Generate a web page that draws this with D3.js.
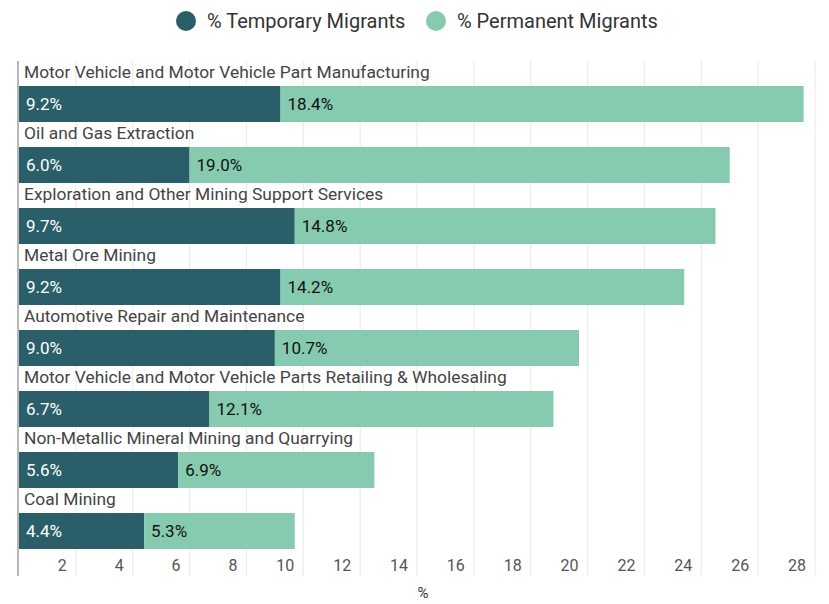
<!DOCTYPE html>
<html>
<head>
<meta charset="utf-8">
<script src="https://cdn.jsdelivr.net/npm/d3@7"></script>
<style>
  body { margin: 0; background: #fff; font-family: Roboto, "Noto Sans", sans-serif; }
  svg text { font-family: Roboto, "Noto Sans", sans-serif; }
</style>
</head>
<body>
<div id="chart"></div>
<script>
// Chart data
const categories = [
    "Motor Vehicle and Motor Vehicle Part Manufacturing",
    "Oil and Gas Extraction",
    "Exploration and Other Mining Support Services",
    "Metal Ore Mining",
    "Automotive Repair and Maintenance",
    "Motor Vehicle and Motor Vehicle Parts Retailing & Wholesaling",
    "Non-Metallic Mineral Mining and Quarrying",
    "Coal Mining"
];
const temporary = [9.2, 6.0, 9.7, 9.2, 9.0, 6.7, 5.6, 4.4];
const permanent = [18.4, 19.0, 14.8, 14.2, 10.7, 12.1, 6.9, 5.3];
const seriesNames = ["% Temporary Migrants", "% Permanent Migrants"];
const xTicks = [2, 4, 6, 8, 10, 12, 14, 16, 18, 20, 22, 24, 26, 28];

const width = 829, height = 604;
const colors = ["#2a5f69", "#86cbb0"];

const svg = d3.select("#chart")
    .append("svg")
    .attr("width", width)
    .attr("height", height);

// Scales
const x = d3.scaleLinear().domain([0, 28]).range([19, 815]);
const y = d3.scaleBand().domain(categories).range([64, 552]).paddingInner(0);

const plotTop = 61, plotBottom = 576;

// Gridlines
svg.append("g")
    .selectAll("line")
    .data(xTicks)
    .enter()
    .append("line")
    .attr("x1", d => x(d))
    .attr("x2", d => x(d))
    .attr("y1", plotTop)
    .attr("y2", plotBottom)
    .attr("stroke", "#ececec")
    .attr("stroke-width", 1.2);

// Tick labels (right aligned to the left of the gridline)
svg.append("g")
    .selectAll("text")
    .data(xTicks)
    .enter()
    .append("text")
    .attr("x", d => x(d) - 9)
    .attr("y", 571)
    .attr("text-anchor", "end")
    .attr("font-size", 16)
    .attr("fill", "#555")
    .text(d => d);

// Left axis line
svg.append("line")
    .attr("x1", 18).attr("x2", 18)
    .attr("y1", plotTop).attr("y2", plotBottom)
    .attr("stroke", "#888")
    .attr("stroke-width", 1.2);

// Rows
const rows = svg.append("g")
    .selectAll("g")
    .data(categories.map((c, i) => ({ name: c, t: temporary[i], p: permanent[i] })))
    .enter()
    .append("g")
    .attr("transform", d => "translate(0," + y(d.name) + ")");

rows.append("text")
    .attr("x", 24)
    .attr("y", 13.6)
    .attr("font-size", 17.4)
    .attr("fill", "#444")
    .text(d => d.name);

rows.append("rect")
    .attr("x", x(0))
    .attr("y", 22)
    .attr("width", d => x(d.t) - x(0))
    .attr("height", 36)
    .attr("fill", colors[0]);

rows.append("rect")
    .attr("x", d => x(d.t))
    .attr("y", 22)
    .attr("width", d => x(d.t + d.p) - x(d.t))
    .attr("height", 36)
    .attr("fill", colors[1]);

rows.append("text")
    .attr("x", x(0) + 7)
    .attr("y", 40)
    .attr("dy", "0.35em")
    .attr("font-size", 17)
    .attr("fill", "#fff")
    .text(d => d.t.toFixed(1) + "%");

rows.append("text")
    .attr("x", d => x(d.t) + 7)
    .attr("y", 40)
    .attr("dy", "0.35em")
    .attr("font-size", 17)
    .attr("fill", "#111")
    .text(d => d.p.toFixed(1) + "%");

// Axis title
svg.append("text")
    .attr("x", 423)
    .attr("y", 598)
    .attr("text-anchor", "middle")
    .attr("font-size", 15)
    .attr("fill", "#333")
    .text("%");

// Legend
const legendX = [186, 436];
const legend = svg.append("g")
    .selectAll("g")
    .data(seriesNames)
    .enter()
    .append("g")
    .attr("transform", (d, i) => "translate(" + legendX[i] + ",21)");

legend.append("circle")
    .attr("r", 10)
    .attr("fill", (d, i) => colors[i]);

legend.append("text")
    .attr("x", 21)
    .attr("dy", "0.35em")
    .attr("font-size", 20)
    .attr("fill", "#333")
    .text(d => d);
</script>
</body>
</html>
